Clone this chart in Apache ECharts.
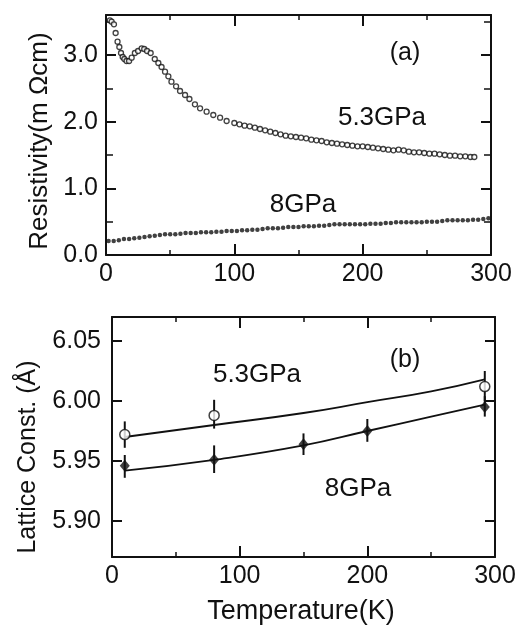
<!DOCTYPE html>
<html>
<head>
<meta charset="utf-8">
<script src="https://cdn.jsdelivr.net/npm/echarts@6/dist/echarts.min.js"></script>
<style>
html,body{margin:0;padding:0;background:#fff;}
#chart{width:522px;height:626px;}
</style>
</head>
<body>
<div id="chart"></div>
<script>
// ---- Panel (a): resistivity vs temperature ----
const tempA53 = [3,4.4,6.2,7.5,9,10.4,11.7,13,14.3,16,18,20,22.5,25,27.8,29.8,32,34.8,38,40.8,43.3,46,48.6,51,54.6,57.7,61.6,65,69.3,73.3,78.4,83.6,88.9,94,
  100,104,108,112,116,120,124,128,132,136,140,144,148,152,156,160,164,168,172,176,180,184,188,192,196,200,204,208,212,216,220,224,228,232,236,240,244,248,252,256,260,264,268,272,276,280,284,287];
const rhoA53 = [3.52,3.50,3.46,3.33,3.20,3.12,3.03,2.97,2.94,2.91,2.91,2.96,3.03,3.06,3.10,3.09,3.06,3.03,2.94,2.88,2.82,2.75,2.68,2.60,2.53,2.46,2.40,2.34,2.26,2.20,2.15,2.10,2.06,2.01,
  1.98,1.96,1.94,1.93,1.91,1.89,1.87,1.85,1.83,1.81,1.79,1.78,1.77,1.76,1.75,1.73,1.72,1.71,1.69,1.68,1.67,1.66,1.65,1.64,1.63,1.63,1.62,1.61,1.60,1.59,1.58,1.57,1.58,1.57,1.55,1.54,1.54,1.53,1.52,1.52,1.51,1.50,1.49,1.49,1.48,1.48,1.47,1.47];

const tempA8 = [2,6,10,14,18,22,26,30,34,38,42,46,50,54,58,62,66,70,74,78,82,86,90,94,98,102,106,110,114,118,122,126,130,134,138,142,146,150,154,158,162,166,170,174,178,182,186,190,194,198,202,206,210,214,218,222,226,230,234,238,242,246,250,254,258,262,266,270,274,278,282,286,290,294,298];
const rhoA8 = [0.21,0.21,0.22,0.24,0.24,0.25,0.26,0.27,0.28,0.29,0.30,0.31,0.31,0.31,0.32,0.33,0.33,0.33,0.34,0.34,0.34,0.35,0.35,0.36,0.36,0.36,0.37,0.37,0.38,0.38,0.39,0.40,0.40,0.40,0.41,0.42,0.42,0.42,0.43,0.43,0.43,0.44,0.44,0.45,0.46,0.46,0.46,0.46,0.46,0.46,0.46,0.47,0.47,0.47,0.48,0.48,0.49,0.49,0.49,0.49,0.49,0.49,0.50,0.50,0.50,0.51,0.52,0.52,0.52,0.52,0.52,0.53,0.53,0.54,0.55];

// ---- Panel (b): lattice constant vs temperature ----
const latT53 = [10, 80, 292];
const lat53 = [5.972, 5.988, 6.012];
const lat53Low = [5.961, 5.977, 6.000];
const lat53High = [5.983, 6.001, 6.025];
const fitT53 = [10, 80, 150, 200, 250, 292];
const fit53 = [5.970, 5.980, 5.990, 5.999, 6.008, 6.018];

const latT8 = [10, 80, 150, 200, 292];
const lat8 = [5.946, 5.951, 5.964, 5.975, 5.995];
const lat8Low = [5.936, 5.940, 5.955, 5.966, 5.987];
const lat8High = [5.955, 5.963, 5.973, 5.985, 6.004];
const fitT8 = [10, 80, 150, 200, 250, 292];
const fit8 = [5.942, 5.951, 5.963, 5.975, 5.987, 5.997];

const xTicks = [0, 100, 200, 300];
const yTicksA = ['0.0', '1.0', '2.0', '3.0'];
const yTicksB = ['5.90', '5.95', '6.00', '6.05'];

const FONT = '"Liberation Sans", Arial, Helvetica, sans-serif';
const INK = '#111';

const zip = (a, b) => a.map((v, i) => [v, b[i]]);
const zip3 = (a, b, c) => a.map((v, i) => [v, b[i], c[i]]);

function xAx(grid, pos, showLabel) {
  return {
    type: 'value', gridIndex: grid, position: pos, min: 0, max: 300, interval: 100,
    axisLine: { show: true, onZero: false, lineStyle: { color: INK, width: 2 } },
    axisTick: { show: true, inside: true, length: 11, lineStyle: { color: INK, width: 2 } },
    minorTick: { show: true, splitNumber: 2, length: 5, lineStyle: { color: INK, width: 1.5 } },
    splitLine: { show: false },
    axisLabel: { show: showLabel, color: INK, fontFamily: FONT, fontSize: 25, margin: 7,
      formatter: v => xTicks.includes(v) ? String(v) : '' }
  };
}
function yAxA(pos, showLabel) {
  return {
    type: 'value', gridIndex: 0, position: pos, min: 0, max: 3.6, interval: 1,
    axisLine: { show: true, onZero: false, lineStyle: { color: INK, width: 2 } },
    axisTick: { show: true, inside: true, length: 10, lineStyle: { color: INK, width: 2 } },
    minorTick: { show: true, splitNumber: 2, length: 7, lineStyle: { color: INK, width: 1.5 } },
    splitLine: { show: false },
    axisLabel: { show: showLabel, color: INK, fontFamily: FONT, fontSize: 25, margin: 8, showMaxLabel: false,
      formatter: v => { const s = v.toFixed(1); return yTicksA.includes(s) && Math.abs(v - Math.round(v)) < 1e-6 ? s : ''; } }
  };
}
function yAxB(pos, showLabel) {
  return {
    type: 'value', gridIndex: 1, position: pos, min: 5.87, max: 6.07, splitNumber: 4,
    axisLine: { show: true, onZero: false, lineStyle: { color: INK, width: 2 } },
    axisTick: { show: true, inside: true, length: 10, lineStyle: { color: INK, width: 2 } },
    splitLine: { show: false },
    axisLabel: { show: showLabel, color: INK, fontFamily: FONT, fontSize: 25, margin: 11, showMinLabel: false, showMaxLabel: false,
      formatter: v => { const s = v.toFixed(2); return yTicksB.includes(s) ? s : ''; } }
  };
}

function errBar(data, xi, yi) {
  return {
    type: 'custom', xAxisIndex: xi, yAxisIndex: yi, data: data, z: 3,
    encode: { x: 0, y: [1, 2] },
    renderItem: (params, api) => {
      const lo = api.coord([api.value(0), api.value(1)]);
      const hi = api.coord([api.value(0), api.value(2)]);
      return { type: 'line', shape: { x1: lo[0], y1: lo[1], x2: hi[0], y2: hi[1] },
        style: { stroke: INK, lineWidth: 2 } };
    }
  };
}

function label(text, x, y, rot, size) {
  return { type: 'text', x: x, y: y, rotation: rot || 0,
    style: { text: text, fill: INK, font: (size || 26) + 'px ' + FONT, textAlign: 'center', textVerticalAlign: 'middle' } };
}

const chart = echarts.init(document.getElementById('chart'), null, { renderer: 'canvas' });
chart.setOption({
  backgroundColor: '#fff',
  animation: false,
  grid: [
    { left: 106, top: 15, width: 385, height: 240 },
    { left: 112, top: 317, width: 383, height: 240 }
  ],
  xAxis: [ xAx(0, 'bottom', true), xAx(0, 'top', false), xAx(1, 'bottom', true), xAx(1, 'top', false) ],
  yAxis: [ yAxA('left', true), yAxA('right', false), yAxB('left', true), yAxB('right', false) ],
  series: [
    { type: 'scatter', xAxisIndex: 0, yAxisIndex: 0, data: zip(tempA53, rhoA53), symbol: 'circle', symbolSize: 5,
      itemStyle: { color: '#fff', borderColor: INK, borderWidth: 1.3 } },
    { type: 'scatter', xAxisIndex: 0, yAxisIndex: 0, data: zip(tempA8, rhoA8), symbol: 'circle', symbolSize: 4.5,
      itemStyle: { color: INK } },
    { type: 'line', xAxisIndex: 2, yAxisIndex: 2, data: zip(fitT53, fit53), smooth: true, showSymbol: false,
      lineStyle: { color: INK, width: 1.8 } },
    { type: 'line', xAxisIndex: 2, yAxisIndex: 2, data: zip(fitT8, fit8), smooth: true, showSymbol: false,
      lineStyle: { color: INK, width: 1.8 } },
    errBar(zip3(latT53, lat53Low, lat53High), 2, 2),
    errBar(zip3(latT8, lat8Low, lat8High), 2, 2),
    { type: 'scatter', xAxisIndex: 2, yAxisIndex: 2, data: zip(latT53, lat53), symbol: 'circle', symbolSize: 10, z: 4,
      itemStyle: { color: '#fff', borderColor: INK, borderWidth: 1.5 } },
    { type: 'scatter', xAxisIndex: 2, yAxisIndex: 2, data: zip(latT8, lat8), symbol: 'diamond', symbolSize: [10, 12], z: 4,
      itemStyle: { color: INK } }
  ],
  graphic: [
    label('(a)', 405, 53, 0, 25),
    label('5.3GPa', 382, 118),
    label('8GPa', 303, 205),
    label('(b)', 405, 360, 0, 25),
    label('5.3GPa', 257, 375),
    label('8GPa', 358, 489),
    label('Resistivity(m \u03A9cm)', 40, 141, Math.PI / 2, 26),
    label('Lattice Const. (\u00C5)', 28, 457, Math.PI / 2, 25),
    label('Temperature(K)', 301, 612, 0, 27)
  ]
});
</script>
</body>
</html>
